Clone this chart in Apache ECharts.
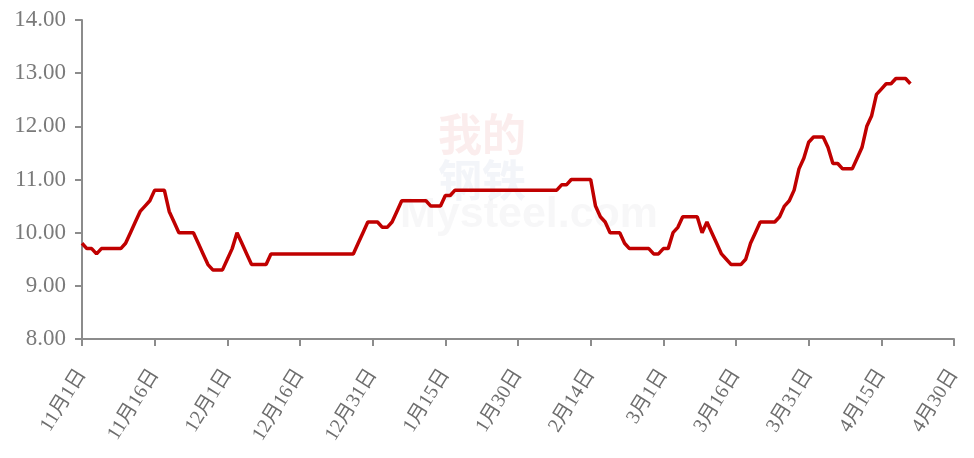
<!DOCTYPE html>
<html>
<head>
<meta charset="utf-8">
<script src="https://cdn.jsdelivr.net/npm/echarts@6/dist/echarts.min.js"></script>
<style>
    html, body { margin: 0; padding: 0; background: #fff; }
    #chart { width: 974px; height: 458px; }
</style>
</head>
<body>
<div id="chart"></div>
<script type="text/javascript">
    // 每日价格 11月1日 起
    var monthDays = [30, 31, 31, 28, 31, 30]; // 11月 - 4月
    var monthNames = [11, 12, 1, 2, 3, 4];
    var priceValues = [
        9.8, 9.7, 9.7, 9.6, 9.7, 9.7, 9.7, 9.7, 9.7, 9.8,
        10.0, 10.2, 10.4, 10.5, 10.6, 10.8, 10.8, 10.8, 10.4, 10.2,
        10.0, 10.0, 10.0, 10.0, 9.8, 9.6, 9.4, 9.3, 9.3, 9.3,
        9.5, 9.7, 10.0, 9.8, 9.6, 9.4, 9.4, 9.4, 9.4, 9.6,
        9.6, 9.6, 9.6, 9.6, 9.6, 9.6, 9.6, 9.6, 9.6, 9.6,
        9.6, 9.6, 9.6, 9.6, 9.6, 9.6, 9.6, 9.8, 10.0, 10.2,
        10.2, 10.2, 10.1, 10.1, 10.2, 10.4, 10.6, 10.6, 10.6, 10.6,
        10.6, 10.6, 10.5, 10.5, 10.5, 10.7, 10.7, 10.8, 10.8, 10.8,
        10.8, 10.8, 10.8, 10.8, 10.8, 10.8, 10.8, 10.8, 10.8, 10.8,
        10.8, 10.8, 10.8, 10.8, 10.8, 10.8, 10.8, 10.8, 10.8, 10.9,
        10.9, 11.0, 11.0, 11.0, 11.0, 11.0, 10.5, 10.3, 10.2, 10.0,
        10.0, 10.0, 9.8, 9.7, 9.7, 9.7, 9.7, 9.7, 9.6, 9.6,
        9.7, 9.7, 10.0, 10.1, 10.3, 10.3, 10.3, 10.3, 10.0, 10.2,
        10.0, 9.8, 9.6, 9.5, 9.4, 9.4, 9.4, 9.5, 9.8, 10.0,
        10.2, 10.2, 10.2, 10.2, 10.3, 10.5, 10.6, 10.8, 11.2, 11.4,
        11.7, 11.8, 11.8, 11.8, 11.6, 11.3, 11.3, 11.2, 11.2, 11.2,
        11.4, 11.6, 12.0, 12.2, 12.6, 12.7, 12.8, 12.8, 12.9, 12.9,
        12.9, 12.8
    ];
    var yTicks = [8, 9, 10, 11, 12, 13, 14];

    // 日期类目
    var dateLabels = [];
    for (var m = 0; m < monthDays.length; m++) {
        for (var d = 1; d <= monthDays[m]; d++) {
            dateLabels.push(monthNames[m] + "月" + d + "日");
        }
    }

    var myChart = echarts.init(document.getElementById('chart'));
    var axisGray = '#8c8c8c';
    var option = {
        animation: false,
        backgroundColor: '#fff',
        grid: { left: 82, right: 20, top: 20, bottom: 119 },
        graphic: [
            {
                type: 'text', left: 438, top: 112, silent: true,
                style: { text: '我的', font: 'bold 44px "Noto Sans CJK SC"', fill: 'rgba(235,175,175,0.22)' }
            },
            {
                type: 'text', left: 438, top: 158, silent: true,
                style: { text: '钢铁', font: 'bold 44px "Noto Sans CJK SC"', fill: 'rgba(195,205,225,0.2)' }
            },
            {
                type: 'text', left: 400, top: 194, silent: true,
                style: { text: 'Mysteel.com', font: 'bold 43px "Liberation Sans"', fill: 'rgba(220,220,225,0.22)' }
            }
        ],
        xAxis: {
            type: 'category',
            data: dateLabels,
            boundaryGap: false,
            axisLine: { lineStyle: { color: axisGray, width: 2 } },
            axisTick: { interval: 14, length: 7, lineStyle: { color: axisGray, width: 2 } },
            axisLabel: {
                interval: 14,
                rotate: 58,
                margin: 32,
                color: '#6e6e6e',
                fontSize: 20,
                fontFamily: '"Liberation Serif", "Noto Sans CJK SC"'
            },
            splitLine: { show: false }
        },
        yAxis: {
            type: 'value',
            min: yTicks[0],
            max: yTicks[yTicks.length - 1],
            interval: 1,
            axisLine: { show: true, lineStyle: { color: axisGray, width: 2 } },
            axisTick: { show: true, length: 7, lineStyle: { color: axisGray, width: 2 } },
            axisLabel: {
                color: '#7a7a7a',
                fontSize: 23,
                margin: 16,
                fontFamily: '"Liberation Serif"',
                formatter: function (v) { return v.toFixed(2); }
            },
            splitLine: { show: false }
        },
        series: [{
            type: 'line',
            data: priceValues,
            showSymbol: false,
            symbol: 'none',
            lineStyle: { color: '#c00000', width: 3.5 },
            itemStyle: { color: '#c00000' }
        }]
    };
    myChart.setOption(option, true);
</script>
</body>
</html>
